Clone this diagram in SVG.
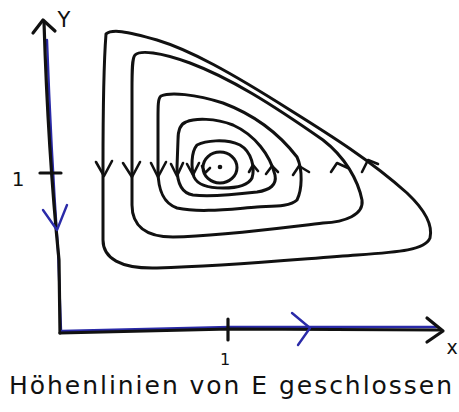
<svg xmlns="http://www.w3.org/2000/svg" width="459" height="412" viewBox="0 0 459 412">
<style>
.c{fill:none;stroke:#111;stroke-width:3;stroke-linecap:round;stroke-linejoin:round}
.a{fill:none;stroke:#111;stroke-width:2.6;stroke-linecap:round;stroke-linejoin:round}
.ax{fill:none;stroke:#111;stroke-width:3.2;stroke-linecap:round;stroke-linejoin:round}
.bl{fill:none;stroke:#2a2aa8;stroke-width:2.4;stroke-linecap:round;stroke-linejoin:round}
.t{font-family:"DejaVu Sans","Liberation Sans",sans-serif;fill:#111}
</style>
<rect width="459" height="412" fill="#fff"/>
<g id="axes">
<path class="bl" d="M47,40 Q51,150 58,250 L61,330"/>
<path class="ax" d="M44,22 Q48,150 59,260 L60,333"/>
<path class="ax" d="M33,33 L43,20 L55,31"/>
<path class="ax" d="M40,173 L61,173"/>
<path class="bl" d="M62,331 L230,327 L436,327"/>
<path class="ax" d="M60,333 L230,329 L440,330"/>
<path class="ax" d="M427,318 L443,331 L427,342"/>
<path class="ax" d="M228,319 L228,340"/>
<path class="bl" d="M43,210 L57,230 L67,205"/>
<path class="bl" d="M292,313 L310,328 L298,345"/>
</g>
<g id="contour1">
<path class="c" d="M106,34 C112,29 125,31 157,40 C190,50 230,72 290,110 C330,135 370,160 407,193 C425,210 433,225 430,238 C425,250 400,252 357,255 C300,259 230,266 157,268 C120,269 103,258 103,240 L103,167 C103,120 104,60 106,34 Z"/>
<path class="a" d="M96,162 L104,176 L112,161"/>
<path class="a" d="M362,172 L368,160 L378,164"/>
</g>
<g id="contour2">
<path class="c" d="M135,55 C140,50 160,52 190,63 C230,78 270,103 323,140 C345,157 358,180 362,200 C364,215 345,222 323,223 C280,228 220,236 173,237 C145,237 132,225 132,205 L132,90 C132,70 132,58 135,55 Z"/>
<path class="a" d="M123,163 L132,177 L140,162"/>
<path class="a" d="M331,172 L337,163 L348,168"/>
</g>
<g id="contour3">
<path class="c" d="M161,96 C170,92 195,94 223,103 C255,115 280,135 297,157 C303,170 302,190 297,200 C290,207 270,206 257,207 C230,209 200,213 177,208 C163,203 158,190 158,170 L158,120 C158,105 158,98 161,96 Z"/>
<path class="a" d="M151,163 L158,177 L166,162"/>
<path class="a" d="M293,175 L299,166 L309,172"/>
</g>
<g id="contour4">
<path class="c" d="M186,122 C195,118 215,118 233,125 C255,135 270,155 275,175 C277,185 270,190 257,192 C240,194 210,197 193,195 C180,193 177,180 177,167 L178,140 C178,130 180,124 186,122 Z"/>
<path class="a" d="M171,164 L177,176 L183,163"/>
<path class="a" d="M266,174 L272,166 L278,172"/>
</g>
<g id="contour5">
<path class="c" d="M197,145 C205,141 225,138 240,145 C252,152 255,168 252,178 C248,186 235,188 223,188 C210,188 198,186 194,177 C191,168 191,152 197,145 Z"/>
<path class="a" d="M187,164 L193,175 L199,163"/>
<path class="a" d="M249,172 L253,165 L258,171"/>
</g>
<g id="contour6">
<ellipse class="c" cx="220" cy="167.5" rx="17" ry="15.5"/>
<path class="a" d="M202,166 L205,173 L210,168"/>
<circle cx="220" cy="167" r="2.3" fill="#111"/>
</g>
<g id="labels">
<text class="t" x="64" y="27" font-size="21" text-anchor="middle">Y</text>
<text class="t" x="18" y="186" font-size="20" text-anchor="middle">1</text>
<text class="t" x="225" y="365" font-size="16" text-anchor="middle">1</text>
<text class="t" x="452" y="354" font-size="19" text-anchor="middle">x</text>
<text class="t" x="9" y="394" font-size="25" textLength="443" lengthAdjust="spacing">Höhenlinien von E geschlossen</text>
</g>
</svg>
